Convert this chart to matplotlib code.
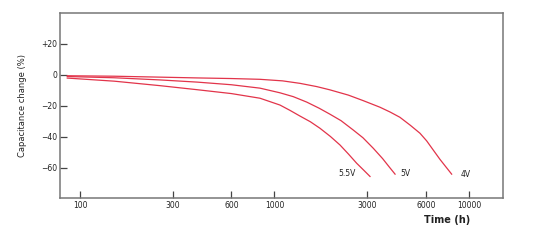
import matplotlib
matplotlib.use("Agg")
import matplotlib.pyplot as plt

t_4v = [86, 150, 258, 400, 600, 842, 1100, 1352, 1650, 1928, 2400, 2865, 3485, 3930,
        4415, 5000, 5600, 6060, 6550, 7100, 7600, 8150]
c_4v = [-0.5, -0.8, -1.4, -1.9, -2.3, -2.8, -3.8, -5.4, -7.5, -9.6, -13.0, -16.6, -20.8, -23.9,
        -27.3, -32.5, -37.6, -42.5, -48.4, -54.5, -59.2, -64]
t_5v = [86, 150, 258, 400, 600, 842, 1067, 1250, 1465, 1700, 1928, 2200, 2540, 2850,
        3222, 3600, 3900, 4170]
c_5v = [-1, -1.8, -3.2, -4.6, -6.3, -8.5, -11.5, -14, -17.5, -21.5, -25.3, -29.5, -35.5, -40.5,
        -47.3, -54, -59.5, -64]
t_55v = [86, 150, 258, 400, 600, 842, 1067, 1200, 1352, 1530, 1714, 1940, 2173, 2400,
         2648, 2880, 3100]
c_55v = [-2, -4, -6.9, -9.5, -12, -15, -19.4, -22.8, -26.5, -30.2, -34.4, -39.7, -45.2, -51,
         -57, -61.5, -65.5]

labels = ["5.5V", "5V", "4V"]
label_t = [2360, 4690, 9660]
label_c = [-63.9, -63.9, -64.5]

x_ticks = [100, 300, 600, 1000, 3000, 6000, 10000]
x_ticklabels = ["100", "300", "600", "1000", "3000", "6000", "10000"]
y_ticks = [20, 0, -20, -40, -60]
y_ticklabels = ["+20", "0", "\u221220", "\u221240", "\u221260"]

fig = plt.figure(figsize=(5.54, 2.40), dpi=100)
ax = fig.add_axes([60/554, 1-198/240, 443/554, 185/240])
red = "#e2344a"
for t, c in [(t_4v, c_4v), (t_5v, c_5v), (t_55v, c_55v)]:
    ax.plot(t, c, color=red, lw=0.9, solid_joinstyle="round")

ax.set_xscale("log")
ax.set_xlim(78.9, 14970)
ax.set_ylim(-79.4, 40)
ax.set_xticks(x_ticks)
ax.set_xticklabels(x_ticklabels)
ax.minorticks_off()
ax.set_yticks(y_ticks)
ax.set_yticklabels(y_ticklabels)
ax.tick_params(direction="in", length=5, width=0.9, color="#444", labelsize=5.5, pad=2, labelcolor="#222")
for s in ax.spines.values():
    s.set_color("#777")
    s.set_linewidth(1.1)

for lab, lt, lc in zip(labels, label_t, label_c):
    ax.text(lt, lc, lab, fontsize=5.5, ha="center", va="center", color="#222")

ax.set_ylabel("Capacitance change (%)", fontsize=6, color="#222", labelpad=10)
fig.text(447/554, 1-220/240, "Time (h)", fontsize=7, fontweight="bold", ha="center", va="center", color="#222")

fig.savefig("out.png", dpi=100)
